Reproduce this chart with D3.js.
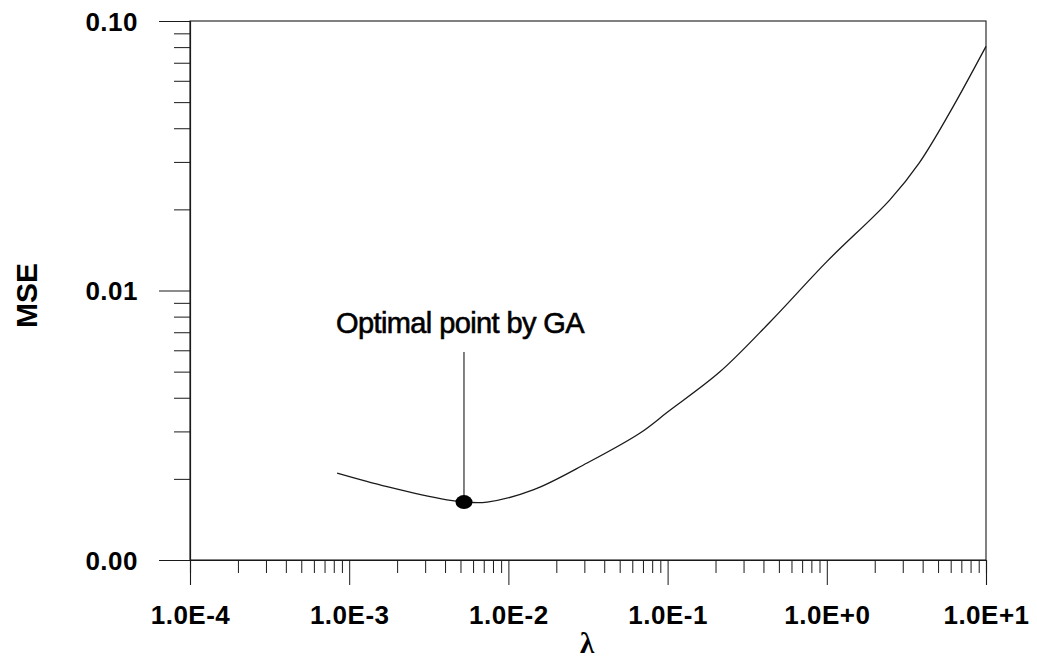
<!DOCTYPE html>
<html>
<head>
<meta charset="utf-8">
<script src="https://cdn.jsdelivr.net/npm/d3@7"></script>
<style>
  body { margin: 0; background: #fff; }
  .tick text { font-family: "Liberation Sans", Arial, sans-serif; }
</style>
</head>
<body>
<div id="chart"></div>
<script>
// values
var lambdaVals = [0.00084, 0.00173, 0.00411, 0.00526, 0.00735, 0.0143, 0.0312, 0.0672, 0.1, 0.213, 0.44, 1.0, 2.49, 3.8, 5.94, 10];
var mseVals    = [0.00210, 0.00187, 0.00167, 0.00164, 0.00164, 0.00182, 0.00229, 0.00296, 0.00354, 0.00499, 0.00764, 0.0128, 0.0217, 0.0297, 0.0459, 0.0805];
var xMajor = [1e-4, 1e-3, 1e-2, 1e-1, 1, 10];
var xLabels = ["1.0E-4", "1.0E-3", "1.0E-2", "1.0E-1", "1.0E+0", "1.0E+1"];
var yMajor = [0.001, 0.01, 0.1];
var yLabels = ["0.00", "0.01", "0.10"];
var optimal = {lambda: 0.00526, mse: 0.00164, label: "Optimal point by GA"};

var margin = {top: 21, left: 190, bottom: 104, right: 51};
var W = 1037, H = 664;
var width = W - margin.left - margin.right;
var height = H - margin.top - margin.bottom;

var svg = d3.select("#chart").append("svg")
  .attr("width", W)
  .attr("height", H)
  .append("g")
  .attr("transform", "translate(" + margin.left + "," + margin.top + ")");

var x = d3.scaleLog().domain([1e-4, 10]).range([0, width]);
var y = d3.scaleLog().domain([0.001, 0.1]).range([height, 0]);

// minor ticks 2..9 in each decade
var xMinor = [];
xMajor.slice(0, -1).forEach(function(d) {
  for (var k = 2; k < 10; k++) xMinor.push(d * k);
});
var yMinor = [];
yMajor.slice(0, -1).forEach(function(d) {
  for (var k = 2; k < 10; k++) yMinor.push(d * k);
});

var ink = "#1a1a1a";

// frame
svg.append("rect")
  .attr("width", width)
  .attr("height", height)
  .attr("fill", "none")
  .attr("stroke", ink)
  .attr("stroke-width", 1.1);

// x axis
var gxMinor = svg.append("g")
  .attr("transform", "translate(0," + height + ")")
  .call(d3.axisBottom(x).tickValues(xMinor).tickSize(13).tickFormat(""));
var gx = svg.append("g")
  .attr("transform", "translate(0," + height + ")")
  .call(d3.axisBottom(x).tickValues(xMajor).tickSize(25).tickPadding(21)
    .tickFormat(function(d, i) { return xLabels[i]; }));

// y axis
var gyMinor = svg.append("g")
  .call(d3.axisLeft(y).tickValues(yMinor).tickSize(16).tickFormat(""));
var gy = svg.append("g")
  .call(d3.axisLeft(y).tickValues(yMajor).tickSize(31).tickPadding(21)
    .tickFormat(function(d, i) { return yLabels[i]; }));

[gx, gy, gxMinor, gyMinor].forEach(function(g) {
  g.select(".domain").attr("stroke", ink).attr("stroke-width", 1.1);
  g.selectAll(".tick line").attr("stroke", ink).attr("stroke-width", 1);
  g.selectAll(".tick text")
    .attr("fill", "#000")
    .style("font-size", "26px")
    .style("font-weight", "bold")
    .style("letter-spacing", "0.5px");
});
gy.selectAll(".tick text").attr("dy", "0.36em");

// curve
var pts = lambdaVals.map(function(d, i) { return [d, mseVals[i]]; });
svg.append("path")
  .datum(pts)
  .attr("fill", "none")
  .attr("stroke", ink)
  .attr("stroke-width", 1.3)
  .attr("d", d3.line()
    .x(function(d) { return x(d[0]); })
    .y(function(d) { return y(d[1]); })
    .curve(d3.curveCatmullRom.alpha(0.5)));

// annotation
var ox = x(optimal.lambda), oy = y(optimal.mse);
svg.append("line")
  .attr("x1", ox).attr("x2", ox)
  .attr("y1", oy).attr("y2", oy - 150)
  .attr("stroke", ink)
  .attr("stroke-width", 1.1);
svg.append("ellipse")
  .attr("cx", ox).attr("cy", oy)
  .attr("rx", 8.5).attr("ry", 7)
  .attr("fill", "#000");
svg.append("text")
  .attr("x", ox - 128)
  .attr("y", oy - 169)
  .style("font-family", "'Liberation Sans', Arial, sans-serif")
  .style("font-size", "29px")
  .style("letter-spacing", "-0.6px")
  .attr("fill", "#000")
  .attr("stroke", "#000")
  .attr("stroke-width", 0.6)
  .text(optimal.label);

// axis titles
svg.append("text")
  .attr("transform", "translate(" + (26 - margin.left) + "," + (height / 2 + 5) + ") rotate(-90)")
  .attr("text-anchor", "middle")
  .attr("dy", "0.35em")
  .style("font-family", "'Liberation Sans', Arial, sans-serif")
  .style("font-size", "30px")
  .style("font-weight", "bold")
  .text("MSE");

svg.append("text")
  .attr("x", 587 - margin.left)
  .attr("y", height + 93)
  .attr("text-anchor", "middle")
  .style("font-family", "'Liberation Serif', 'DejaVu Serif', serif")
  .style("font-size", "29px")
  .style("font-weight", "bold")
  .text("λ");
</script>
</body>
</html>
